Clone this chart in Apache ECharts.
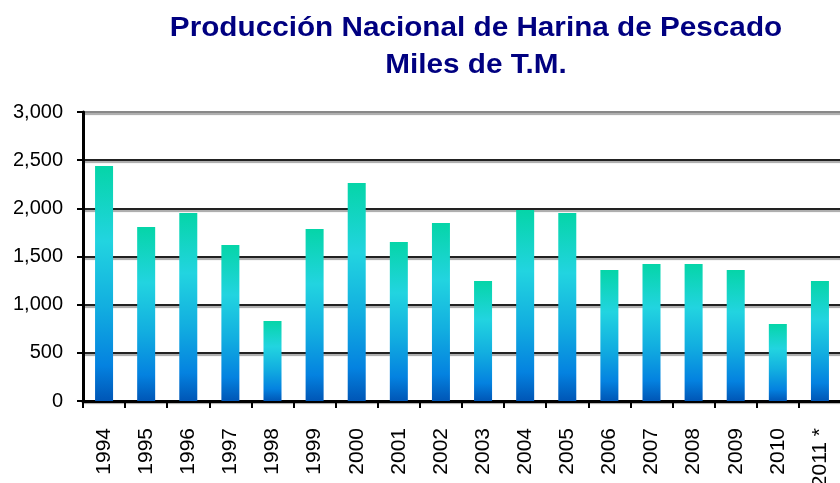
<!DOCTYPE html>
<html>
<head>
<meta charset="utf-8">
<script src="https://cdn.jsdelivr.net/npm/echarts@6/dist/echarts.min.js"></script>
<style>
  html, body { margin: 0; padding: 0; background: #fff; }
  #chart { width: 840px; height: 483px; }
</style>
</head>
<body>
<div id="chart"></div>
<script>
// datos: producción en miles de T.M.
const years = ['1994', '1995', '1996', '1997', '1998', '1999', '2000', '2001', '2002',
  '2003', '2004', '2005', '2006', '2007', '2008', '2009', '2010', '2011 *']
const production = [2440, 1806, 1952, 1619, 830, 1786, 2263, 1651, 1848,
  1246, 1983, 1952, 1360, 1422, 1422, 1360, 799, 1246]
const yTicks = [0, 500, 1000, 1500, 2000, 2500, 3000]
const titleLines = ['Producción Nacional de Harina de Pescado', 'Miles de T.M.']

const chart = echarts.init(document.getElementById('chart'))

// degradado de cada barra: verde arriba, azul abajo
const barGradient = new echarts.graphic.LinearGradient(0, 0, 0, 1, [
  { offset: 0, color: '#05d5a8' },
  { offset: 0.32, color: '#22d4e0' },
  { offset: 0.6, color: '#12aee0' },
  { offset: 0.85, color: '#0482e0' },
  { offset: 1, color: '#0056b6' }
])

// título en dos líneas, un poco ensanchado como en la lámina original
const titleText = (text, y) => ({
  type: 'text',
  x: 476,
  y: y,
  scaleX: 1.1,
  style: {
    text: text,
    font: 'bold 27px "Liberation Sans", Arial, sans-serif',
    fill: '#000080',
    textAlign: 'center',
    textVerticalAlign: 'middle'
  }
})

const option = {
  animation: false,
  textStyle: { fontFamily: 'Liberation Sans, Arial, sans-serif' },
  graphic: [
    titleText(titleLines[0], 29),
    titleText(titleLines[1], 66)
  ],
  grid: {
    left: 83,
    top: 112,
    bottom: 82,
    width: 758,
    containLabel: false,
    outerBoundsMode: 'none'
  },
  xAxis: {
    type: 'category',
    data: years,
    axisLine: { lineStyle: { color: '#000', width: 3 } },
    axisTick: { show: true, length: 7, lineStyle: { color: '#000', width: 2 } },
    axisLabel: {
      rotate: 90,
      margin: 27,
      fontSize: 21,
      color: '#000'
    }
  },
  yAxis: {
    type: 'value',
    min: yTicks[0],
    max: yTicks[yTicks.length - 1],
    interval: 500,
    axisLine: { show: true, lineStyle: { color: '#000', width: 3 } },
    axisTick: { show: true, length: 6, lineStyle: { color: '#000', width: 2 } },
    axisLabel: {
      fontSize: 20,
      color: '#000',
      margin: 20,
      formatter: v => v.toLocaleString('en-US')
    },
    splitLine: {
      lineStyle: {
        color: ['#222', '#222', '#222', '#222', '#222', '#222', '#888'],
        width: 2,
        shadowColor: 'rgba(0,0,0,0.35)',
        shadowOffsetY: 2,
        shadowBlur: 1
      }
    }
  },
  series: [
    {
      type: 'bar',
      data: production,
      barWidth: 18,
      itemStyle: { color: barGradient }
    }
  ]
}

chart.setOption(option)
</script>
</body>
</html>
